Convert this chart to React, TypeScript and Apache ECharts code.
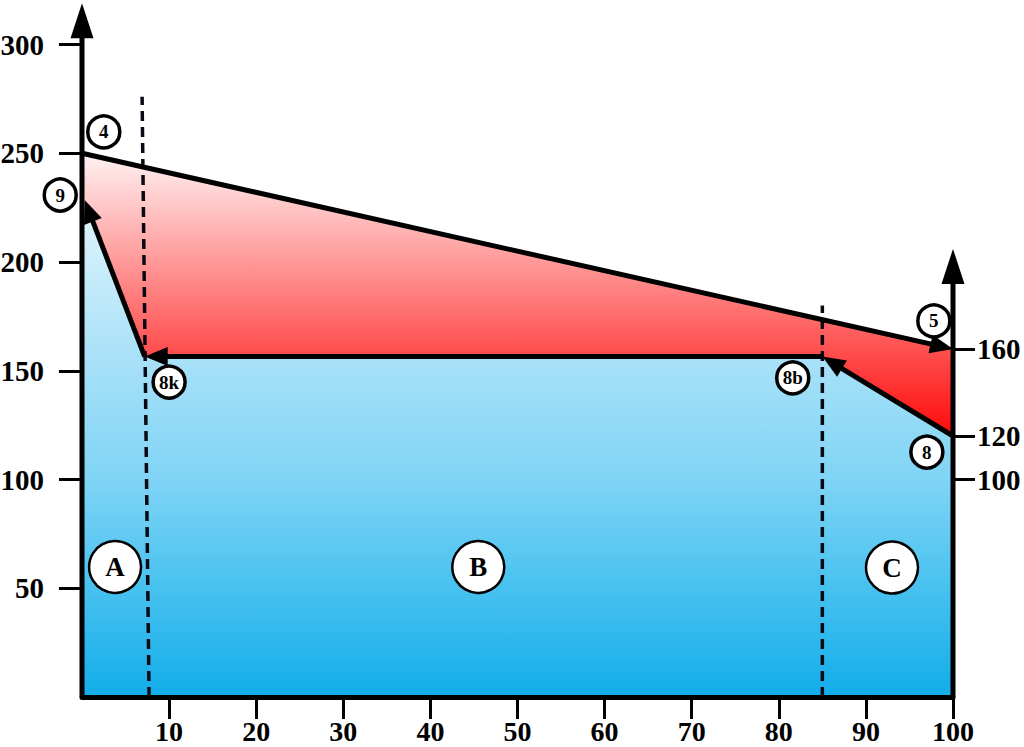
import React, { useEffect, useRef } from "react";
import * as echarts from "echarts";

// ---- data ----
const xTicks = [10, 20, 30, 40, 50, 60, 70, 80, 90, 100];
const leftTicks = [50, 100, 150, 200, 250, 300];
const rightTicks = [100, 120, 160];

// upper boundary: point 4 -> point 5
const upperBoundary: number[][] = [
  [0, 250],
  [100, 160],
];
// return path: 8 -> 8b -> 8k -> 9
const returnPath: number[][] = [
  [100, 120],
  [85, 156.5],
  [7.2, 156.5],
  [0.3, 228.5],
];
// dashed zone dividers: [xBottom, xTop, topValue]
const dividers: number[][] = [
  [7.7, 6.9, 276],
  [85, 85, 180],
];
// axis arrows: [x, yEnd]
const axisArrows: number[][] = [
  [0, 319],
  [100, 206],
];
// small circled labels: [x, y, text]
const pointLabels: (number | string)[][] = [
  [2.5, 259.8, "4"],
  [-2.5, 230.8, "9"],
  [10, 144.8, "8k"],
  [97.8, 172.9, "5"],
  [81.6, 146.7, "8b"],
  [97.0, 112.6, "8"],
];
// zone labels
const zoneLabels: (number | string)[][] = [
  [3.8, 59.8, "A"],
  [45.5, 59.8, "B"],
  [93.0, 59.5, "C"],
];

const FONT = "'Liberation Serif', 'Times New Roman', serif";

function arrowRenderer(headLen: number, headWidth: number, lineWidth: number) {
  return (params: any, api: any) => {
    const p1 = api.coord([api.value(0), api.value(1)]);
    const p2 = api.coord([api.value(2), api.value(3)]);
    const dx = p2[0] - p1[0];
    const dy = p2[1] - p1[1];
    const len = Math.sqrt(dx * dx + dy * dy) || 1;
    const ux = dx / len;
    const uy = dy / len;
    const bx = p2[0] - ux * headLen;
    const by = p2[1] - uy * headLen;
    const nx = -uy;
    const ny = ux;
    return {
      type: "group",
      children: [
        {
          type: "line",
          shape: { x1: p1[0], y1: p1[1], x2: bx + ux * 2, y2: by + uy * 2 },
          style: { stroke: "#000", lineWidth },
        },
        {
          type: "polygon",
          shape: {
            points: [
              [p2[0], p2[1]],
              [bx + (nx * headWidth) / 2, by + (ny * headWidth) / 2],
              [bx - (nx * headWidth) / 2, by - (ny * headWidth) / 2],
            ],
          },
          style: { fill: "#000" },
        },
      ],
    };
  };
}

function polygonRenderer(points: number[][], fill: any) {
  return (params: any, api: any) => ({
    type: "polygon",
    shape: { points: points.map((p) => api.coord(p)) },
    style: { fill },
  });
}

export default function App() {
  const ref = useRef<HTMLDivElement>(null);

  useEffect(() => {
    if (!ref.current) return;
    const chart = echarts.init(ref.current, undefined, { renderer: "svg" });

    const flowSegments: number[][] = [];
    flowSegments.push([...upperBoundary[0], ...upperBoundary[1]]);
    for (let i = 0; i < returnPath.length - 1; i++) {
      flowSegments.push([...returnPath[i], ...returnPath[i + 1]]);
    }

    const redPoly = [...upperBoundary, ...returnPath];
    const bluePoly = [[0, 0], [100, 0], ...returnPath, [0, returnPath[returnPath.length - 1][1]]];

    const redFill = new echarts.graphic.LinearGradient(0, 0, 0, 1, [
      { offset: 0, color: "#fff2f2" },
      { offset: 0.72, color: "#ff4a4a" },
      { offset: 1, color: "#ff0a0a" },
    ]);
    const blueFill = new echarts.graphic.LinearGradient(0, 0, 0, 1, [
      { offset: 0, color: "#e2f5fc" },
      { offset: 0.32, color: "#a8e1f8" },
      { offset: 0.56, color: "#80d4f5" },
      { offset: 0.74, color: "#52c5f1" },
      { offset: 1, color: "#12ade9" },
    ]);

    const labelStyle = {
      fontFamily: FONT,
      fontWeight: "bold",
      fontSize: 29,
      color: "#000",
    };

    chart.setOption({
      animation: false,
      grid: { left: 82, right: 71, top: 1, bottom: 50, containLabel: false, outerBoundsMode: "none" },
      xAxis: {
        type: "value",
        min: 0,
        max: 100,
        interval: 10,
        z: 10,
        splitLine: { show: false },
        axisLine: { show: true, onZero: false, lineStyle: { color: "#000", width: 5 } },
        axisTick: { show: true, customValues: xTicks, length: 22, lineStyle: { color: "#000", width: 3 } },
        axisLabel: { customValues: xTicks, margin: 20, ...labelStyle, fontSize: 28 },
      },
      yAxis: [
        {
          type: "value",
          min: 0,
          max: 320,
          interval: 10,
          position: "left",
          splitLine: { show: false },
          axisLine: { show: false },
          axisTick: { show: true, customValues: leftTicks, length: 23, lineStyle: { color: "#000", width: 3 } },
          axisLabel: { customValues: leftTicks, margin: 38, ...labelStyle },
        },
        {
          type: "value",
          min: 0,
          max: 320,
          interval: 10,
          position: "right",
          splitLine: { show: false },
          axisLine: { show: false },
          axisTick: { show: true, customValues: rightTicks, length: 22, lineStyle: { color: "#000", width: 3 } },
          axisLabel: { customValues: rightTicks, margin: 24, ...labelStyle },
        },
      ],
      series: [
        {
          type: "custom",
          name: "blue",
          z: 1,
          clip: false,
          data: [[0, 0]],
          renderItem: polygonRenderer(bluePoly, blueFill),
        },
        {
          type: "custom",
          name: "red",
          z: 2,
          clip: false,
          data: [[0, 0]],
          renderItem: polygonRenderer(redPoly, redFill),
        },
        {
          type: "custom",
          name: "dividers",
          z: 3,
          clip: false,
          data: dividers,
          renderItem: (params: any, api: any) => {
            const a = api.coord([api.value(0), 0]);
            const b = api.coord([api.value(1), api.value(2)]);
            return {
              type: "line",
              shape: { x1: a[0], y1: a[1], x2: b[0], y2: b[1] },
              style: { stroke: "#0a0a14", lineWidth: 3.5, lineDash: [10, 6] },
            };
          },
        },
        {
          type: "custom",
          name: "flow",
          z: 4,
          clip: false,
          data: flowSegments,
          encode: { x: [0, 2], y: [1, 3] },
          renderItem: arrowRenderer(23, 19, 5),
        },
        {
          type: "custom",
          name: "axes",
          z: 5,
          clip: false,
          data: axisArrows.map((a) => [a[0], 0, a[0], a[1]]),
          encode: { x: [0, 2], y: [1, 3] },
          renderItem: arrowRenderer(35, 23, 5),
        },
        {
          type: "scatter",
          z: 6,
          clip: false,
          symbol: "circle",
          symbolSize: 32,
          data: pointLabels,
          itemStyle: { color: "#fff", borderColor: "#000", borderWidth: 3.5, opacity: 1 },
          label: {
            show: true,
            position: "inside",
            formatter: (p: any) => p.data[2],
            fontFamily: FONT,
            fontWeight: "bold",
            fontSize: 19,
            color: "#000",
          },
        },
        {
          type: "scatter",
          z: 6,
          clip: false,
          symbol: "circle",
          symbolSize: 52,
          data: zoneLabels,
          itemStyle: { color: "#fff", borderColor: "#000", borderWidth: 2.5, opacity: 1 },
          label: {
            show: true,
            position: "inside",
            formatter: (p: any) => p.data[2],
            fontFamily: FONT,
            fontWeight: "bold",
            fontSize: 27,
            color: "#000",
          },
        },
      ],
    });

    return () => chart.dispose();
  }, []);

  return (
    <div
      ref={ref}
      style={{ position: "absolute", left: 0, top: 0, width: 1024, height: 747, background: "#fff" }}
    />
  );
}
